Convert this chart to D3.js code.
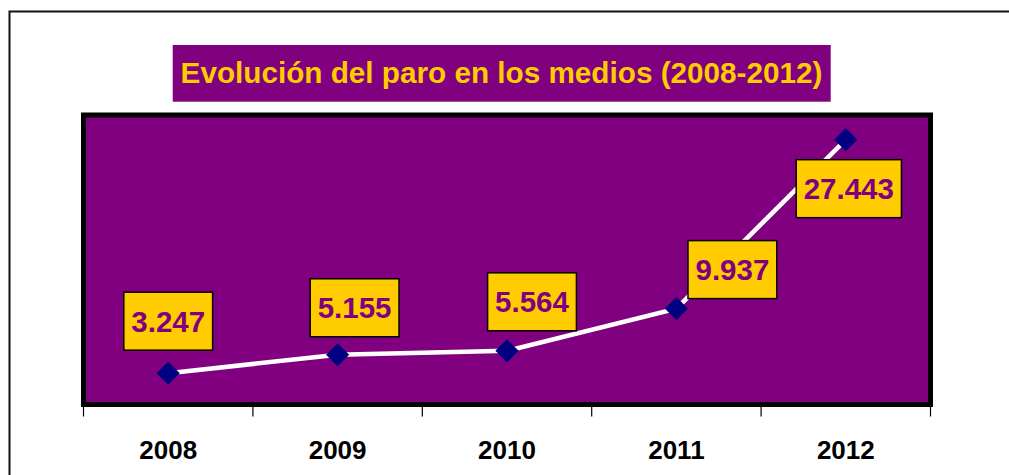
<!DOCTYPE html>
<html>
<head>
<meta charset="utf-8">
<script src="https://cdn.jsdelivr.net/npm/d3@7"></script>
<style>
  html, body { margin: 0; padding: 0; background: #fff; }
  svg { display: block; }
</style>
</head>
<body>
<svg id="chart" width="1009" height="475"></svg>
<script>
// ---- data ----
const years = ["2008", "2009", "2010", "2011", "2012"];
const paro = [3247, 5155, 5564, 9937, 27443];
const valueLabels = ["3.247", "5.155", "5.564", "9.937", "27.443"];
const titleText = "Evolución del paro en los medios (2008-2012)";

// ---- label layout (pixel offsets of label box centre from point) ----
const labelDx = [0, 17, 25, 56, 3];
const labelDy = [-52, -47, -49, -39, 49];

const svg = d3.select("#chart");
const W = 1009, H = 475;

// outer frame (cut off at right/bottom)
svg.append("rect")
  .attr("x", 9.5).attr("y", 11.5)
  .attr("width", 1100).attr("height", 600)
  .attr("fill", "#fff").attr("stroke", "#111").attr("stroke-width", 2);

// title
const titleG = svg.append("g");
titleG.append("rect")
  .attr("x", 172.7).attr("y", 45).attr("width", 658).attr("height", 56.7)
  .attr("fill", "#800080");
titleG.append("text")
  .attr("x", 501.5).attr("y", 82.5)
  .attr("text-anchor", "middle")
  .attr("font-family", "Liberation Sans, Arial, sans-serif")
  .attr("font-weight", "bold")
  .attr("font-size", 29.7)
  .attr("fill", "#FFCC00")
  .text(titleText);

// plot area
const plot = { left: 83.5, right: 930.5, top: 115, bottom: 404.5 };
const x = d3.scaleBand().domain(years).range([plot.left, plot.right]).padding(0);
const y = d3.scaleLinear().domain([0, 30000]).range([plot.bottom, plot.top]);

svg.append("rect")
  .attr("x", plot.left).attr("y", plot.top)
  .attr("width", plot.right - plot.left).attr("height", plot.bottom - plot.top)
  .attr("fill", "#800080").attr("stroke", "#000").attr("stroke-width", 5);

// x axis ticks at band boundaries
const axisG = svg.append("g").attr("transform", `translate(0,${plot.bottom})`);
const bounds = years.map(d => x(d)).concat([x(years[years.length - 1]) + x.bandwidth()]);
axisG.selectAll("line.tick").data(bounds).join("line")
  .attr("x1", d => d).attr("x2", d => d)
  .attr("y1", 0).attr("y2", 12)
  .attr("stroke", "#000").attr("stroke-width", 1.2);
axisG.selectAll("text").data(years).join("text")
  .attr("x", d => x(d) + x.bandwidth() / 2)
  .attr("y", 54)
  .attr("text-anchor", "middle")
  .attr("font-family", "Liberation Sans, Arial, sans-serif")
  .attr("font-weight", "bold")
  .attr("font-size", 26)
  .attr("fill", "#000")
  .text(d => d);

// line
const pts = years.map((yr, i) => ({ yr, v: paro[i], lab: valueLabels[i], i }));
const cx = d => x(d.yr) + x.bandwidth() / 2;
const cy = d => y(d.v);
svg.append("path")
  .datum(pts)
  .attr("d", d3.line().x(cx).y(cy))
  .attr("fill", "none").attr("stroke", "#fff").attr("stroke-width", 4.5);

// markers (diamonds)
const sym = d3.symbol().type(d3.symbolSquare).size(270);
svg.selectAll("path.marker").data(pts).join("path")
  .attr("class", "marker")
  .attr("d", sym)
  .attr("transform", d => `translate(${cx(d)},${cy(d)}) rotate(45)`)
  .attr("fill", "#000080");

// data labels
const fs = 29.5;
const lg = svg.selectAll("g.lab").data(pts).join("g").attr("class", "lab");
lg.append("text")
  .attr("x", d => cx(d) + labelDx[d.i])
  .attr("y", d => cy(d) + labelDy[d.i] + fs * 0.358)
  .attr("text-anchor", "middle")
  .attr("font-family", "Liberation Sans, Arial, sans-serif")
  .attr("font-weight", "bold")
  .attr("font-size", fs)
  .attr("fill", "#800080")
  .text(d => d.lab)
  .each(function (d) {
    const w = this.getComputedTextLength();
    const bw = w + 15, bh = 58;
    d3.select(this.parentNode).insert("rect", "text")
      .attr("x", cx(d) + labelDx[d.i] - bw / 2)
      .attr("y", cy(d) + labelDy[d.i] - bh / 2)
      .attr("width", bw).attr("height", bh)
      .attr("fill", "#FFCC00").attr("stroke", "#000").attr("stroke-width", 1.5);
  });
</script>
</body>
</html>
